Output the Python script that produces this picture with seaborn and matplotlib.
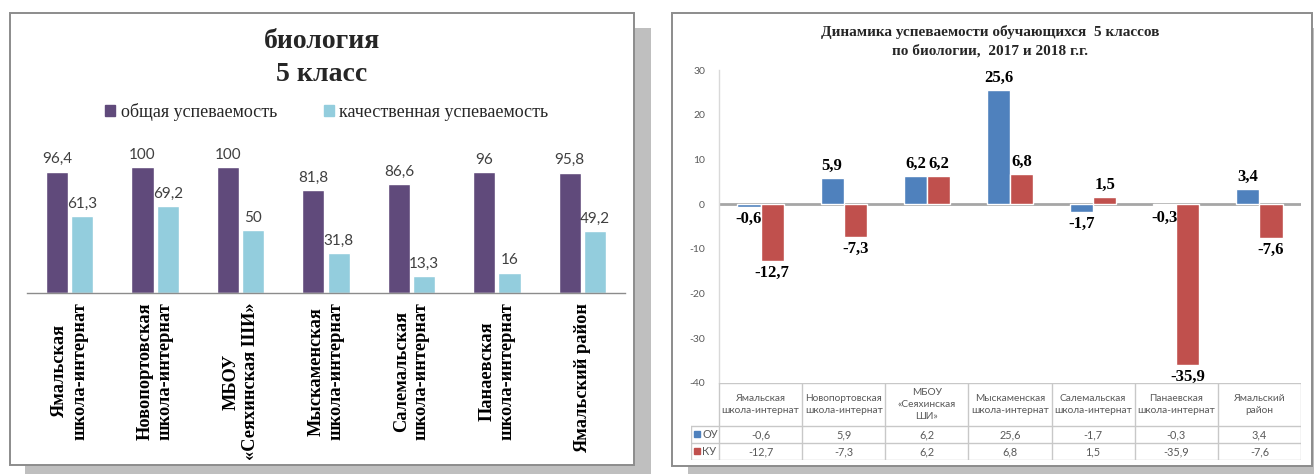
import matplotlib
matplotlib.use("Agg")
import matplotlib.pyplot as plt
from matplotlib.patches import Rectangle
from matplotlib.lines import Line2D
import seaborn as sns
import pandas as pd

# ---------------- data ----------------
schools = ["Ямальская школа-интернат", "Новопортовская школа-интернат",
           "МБОУ «Сеяхинская ШИ»", "Мыскаменская школа-интернат",
           "Салемальская школа-интернат", "Панаевская школа-интернат",
           "Ямальский район"]
left_tick_labels = ["Ямальская\nшкола-интернат", "Новопортовская\nшкола-интернат",
                    "МБОУ\n«Сеяхинская ШИ»", "Мыскаменская\nшкола-интернат",
                    "Салемальская\nшкола-интернат", "Панаевская\nшкола-интернат",
                    "Ямальский район"]
table_labels = ["Ямальская\nшкола-интернат", "Новопортовская\nшкола-интернат",
                "МБОУ\n«Сеяхинская\nШИ»", "Мыскаменская\nшкола-интернат",
                "Салемальская\nшкола-интернат", "Панаевская\nшкола-интернат",
                "Ямальский\nрайон"]
overall = [96.4, 100, 100, 81.8, 86.6, 96, 95.8]
quality = [61.3, 69.2, 50, 31.8, 13.3, 16, 49.2]
left_series = ["общая успеваемость", "качественная успеваемость"]
ou_change = [-0.6, 5.9, 6.2, 25.6, -1.7, -0.3, 3.4]
ku_change = [-12.7, -7.3, 6.2, 6.8, 1.5, -35.9, -7.6]
right_series = ["ОУ", "КУ"]
left_title = "биология\n5 класс"
right_title = "Динамика успеваемости обучающихся  5 классов\nпо биологии,  2017 и 2018 г.г."
right_yticks = [-40, -30, -20, -10, 0, 10, 20, 30]

left_colors = {"общая успеваемость": "#604A7B", "качественная успеваемость": "#93CDDD"}
right_colors = {"ОУ": "#4F81BD", "КУ": "#C0504D"}

SERIF = "Liberation Serif"
SANS = "Lato"

sns.set_theme(style="white")
plt.rcParams["font.family"] = ["Liberation Serif", "DejaVu Sans"]

W, H = 1314, 474
fig = plt.figure(figsize=(W / 100, H / 100), dpi=100)


def fr(x0, y0, x1, y1):
    return [x0 / W, 1 - y1 / H, (x1 - x0) / W, (y1 - y0) / H]


def fx(x):
    return x / W


def fy(y):
    return 1 - y / H


def fmt(v):
    if float(v).is_integer():
        return str(int(v))
    return f"{v:.1f}".replace(".", ",")


# ---------------- frames and shadows ----------------
for (x0, y0, x1, y1) in [(25, 28, 651, 476), (688, 28, 1320, 476)]:
    fig.patches.append(Rectangle((fx(x0), fy(y1)), fx(x1 - x0), (y1 - y0) / H,
                                 transform=fig.transFigure, facecolor="#BFBFBF",
                                 edgecolor="none", zorder=-3))
for (x0, y0, x1, y1) in [(10, 13, 634, 465), (672, 13, 1312, 466)]:
    fig.patches.append(Rectangle((fx(x0), fy(y1)), fx(x1 - x0), (y1 - y0) / H,
                                 transform=fig.transFigure, facecolor="white",
                                 edgecolor="#8C8C8C", linewidth=1.4, zorder=-2))

# ---------------- left chart ----------------
df_left = pd.DataFrame({
    "school": schools * 2,
    "series": [left_series[0]] * len(schools) + [left_series[1]] * len(schools),
    "value": overall + quality,
})
ax1 = fig.add_axes(fr(27, 145, 625, 293))
ax1.patch.set_alpha(0)
sns.barplot(data=df_left, x="school", y="value", hue="series", order=schools,
            hue_order=left_series, palette=left_colors, width=0.59, gap=0.12,
            saturation=1, legend=False, ax=ax1)
ax1.set_ylim(0, 148 / 1.256)
ax1.set_xlim(-0.5, len(schools) - 0.5)
for cont in ax1.containers:
    ax1.bar_label(cont, labels=[fmt(b.get_height()) for b in cont], padding=4,
                  fontsize=11, color="#404040", fontfamily=SANS)
for s in ["top", "right", "left"]:
    ax1.spines[s].set_visible(False)
ax1.spines["bottom"].set_color("#8C8C8C")
ax1.spines["bottom"].set_linewidth(1.0)
ax1.set_yticks([])
ax1.set_xlabel("")
ax1.set_ylabel("")
ax1.set_xticks(range(len(schools)))
ax1.set_xticklabels(left_tick_labels, rotation=90, ha="center", va="top",
                    multialignment="center", fontsize=13.2, fontweight="bold",
                    fontfamily=SERIF, color="black", linespacing=1.2)
ax1.tick_params(axis="x", length=0, pad=7)

fig.text(fx(322), fy(58), left_title, ha="center", va="center", fontsize=20,
         fontweight="bold", fontfamily=SERIF, linespacing=1.4)
handles = [Rectangle((0, 0), 1, 1, color=left_colors[s]) for s in left_series]
fig.legend(handles, left_series, loc="center", bbox_to_anchor=(fx(327), fy(112)),
           ncol=2, frameon=False, prop={"family": SERIF, "size": 13},
           handlelength=0.55, handleheight=0.55, handletextpad=0.3,
           columnspacing=2.6)

# ---------------- right chart ----------------
df_right = pd.DataFrame({
    "school": schools * 2,
    "series": [right_series[0]] * len(schools) + [right_series[1]] * len(schools),
    "value": ou_change + ku_change,
})
X0, X1, YT, YB = 719, 1301, 70, 383
ax2 = fig.add_axes(fr(X0, YT, X1, YB))
ax2.patch.set_alpha(0)
sns.barplot(data=df_right, x="school", y="value", hue="series", order=schools,
            hue_order=right_series, palette=right_colors, width=0.555,
            saturation=1, legend=False, ax=ax2)
ax2.set_ylim(right_yticks[0], right_yticks[-1])
ax2.set_xlim(-0.5, len(schools) - 0.5)
for cont in ax2.containers:
    ax2.bar_label(cont, labels=[fmt(b.get_height()) for b in cont], padding=3,
                  fontsize=12, fontweight="bold", fontfamily=SERIF, color="black")
ax2.axhline(0, color="#A6A6A6", linewidth=2.0, zorder=0.5)
for s in ["top", "right", "bottom"]:
    ax2.spines[s].set_visible(False)
ax2.spines["left"].set_color("#D9D9D9")
ax2.spines["left"].set_linewidth(1.0)
ax2.set_yticks(right_yticks)
ax2.set_yticklabels([str(t) for t in right_yticks], fontsize=7.5,
                    fontfamily=SANS, color="#595959")
ax2.tick_params(axis="y", length=0, pad=10)
ax2.set_xticks([])
ax2.set_xlabel("")
ax2.set_ylabel("")

fig.text(fx(990), fy(41), right_title, ha="center", va="center", fontsize=11,
         fontweight="bold", fontfamily=SERIF, linespacing=1.45)

# ---------------- data table ----------------
axt = fig.add_axes(fr(691, 383, X1, 460))
axt.set_xlim(691, X1)
axt.set_ylim(460, 383)
axt.axis("off")
n = len(schools)
colw = (X1 - X0) / n
lc = "#C8C8C8"
rows_y = [383, 426, 443, 460]
axt.add_line(Line2D([X0, X1], [383, 383], color=lc, lw=1))
for yy in rows_y[1:]:
    axt.add_line(Line2D([691, X1], [yy, yy], color=lc, lw=1))
axt.add_line(Line2D([691, 691], [426, 460], color=lc, lw=1))
for i in range(n + 1):
    xx = X0 + i * colw
    axt.add_line(Line2D([xx, xx], [383, 460], color=lc, lw=1))
for i, lab in enumerate(table_labels):
    axt.text(X0 + (i + 0.5) * colw, 404.5, lab, ha="center", va="center",
             fontsize=7.3, fontfamily=SANS, color="#595959", linespacing=1.4)
for r, (name, vals) in enumerate([(right_series[0], ou_change),
                                  (right_series[1], ku_change)]):
    yc = (rows_y[r + 1] + rows_y[r + 2]) / 2
    axt.add_patch(Rectangle((694, yc - 3), 6, 6, color=right_colors[name]))
    axt.text(702, yc, name, ha="left", va="center", fontsize=7.8,
             fontfamily=SANS, color="#595959")
    for i, v in enumerate(vals):
        axt.text(X0 + (i + 0.5) * colw, yc, fmt(v), ha="center", va="center",
                 fontsize=7.8, fontfamily=SANS, color="#595959")

fig.savefig("out.png", dpi=100)
